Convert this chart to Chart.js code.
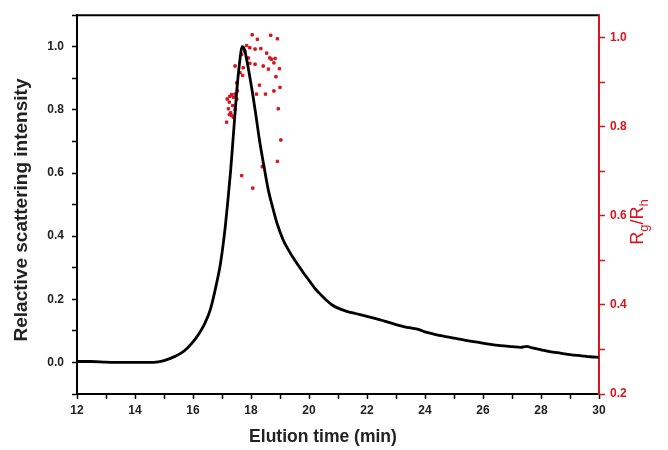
<!DOCTYPE html>
<html>
<head>
<meta charset="utf-8">
<title>Elution profile</title>
<script src="https://cdn.jsdelivr.net/npm/chart.js@4.4.1/dist/chart.umd.min.js"></script>
<style>
    body { margin: 0; background: #fff; }
    #wrap { width: 668px; height: 450px; position: relative; }
</style>
</head>
<body>
<div id="wrap"><canvas id="chart"></canvas></div>
<script>
// light scattering trace
const elutionTime = [12, 12.5, 13, 13.5, 14, 14.5, 14.8, 15.0, 15.2, 15.4, 15.6, 15.8, 16.0, 16.2, 16.4, 16.6, 16.8, 16.95,
    17.1, 17.2, 17.3, 17.4, 17.5, 17.6, 17.7, 17.78, 17.86, 17.95, 18.05, 18.15, 18.3, 18.45, 18.6, 18.75, 18.9, 19.1,
    19.3, 19.5, 19.8, 20.0, 20.2, 20.4, 20.6, 20.8, 21.0, 21.3, 21.6, 22.0, 22.3, 22.6, 23.0, 23.3, 23.6, 23.8, 24.0,
    24.3, 24.6, 25.0, 25.4, 25.8, 26.2, 26.6, 27.0, 27.3, 27.5, 27.7, 28.0, 28.3, 28.7, 29.0, 29.4, 29.7, 30];
const intensity = [0.003, 0.003, 0.001, 0.0, 0.0, 0.0, 0.002, 0.006, 0.012, 0.02, 0.03, 0.045, 0.065, 0.09, 0.122, 0.168,
    0.245, 0.315, 0.42, 0.51, 0.61, 0.73, 0.85, 0.945, 1.0, 0.99, 0.955, 0.91, 0.855, 0.795, 0.7, 0.62, 0.545, 0.49,
    0.44, 0.39, 0.355, 0.325, 0.285, 0.26, 0.235, 0.215, 0.197, 0.182, 0.172, 0.162, 0.155, 0.146, 0.139, 0.131, 0.12,
    0.113, 0.108, 0.104, 0.097, 0.09, 0.084, 0.077, 0.07, 0.064, 0.058, 0.053, 0.05, 0.048, 0.051, 0.046, 0.04, 0.034,
    0.029, 0.025, 0.021, 0.018, 0.016];

// Rg/Rh points
const ratioTime = [18.04, 18.22, 18.68, 18.91, 17.85, 17.96, 18.14, 18.34, 17.79, 17.68, 17.91, 18.54, 18.65, 18.71,
    18.83, 18.79, 17.96, 18.14, 18.42, 18.6, 18.98, 17.45, 17.73, 17.62, 17.71, 18.86, 17.51, 18.29, 19.0, 17.53,
    17.45, 18.19, 18.5, 18.79, 17.33, 17.39, 17.27, 17.18, 17.51, 17.25, 17.37, 17.22, 17.45, 17.3, 17.33, 17.39,
    17.25, 17.16, 18.94, 19.03, 18.91, 18.39, 17.68, 18.06];
const ratioValue = [1.006, 0.996, 1.005, 0.997, 0.982, 0.977, 0.974, 0.975, 0.969, 0.962, 0.954, 0.965, 0.954, 0.951,
    0.953, 0.943, 0.942, 0.94, 0.936, 0.929, 0.93, 0.936, 0.932, 0.921, 0.915, 0.912, 0.898, 0.893, 0.888, 0.88,
    0.873, 0.873, 0.873, 0.88, 0.872, 0.866, 0.868, 0.862, 0.862, 0.855, 0.847, 0.84, 0.838, 0.831, 0.825, 0.821,
    0.827, 0.81, 0.84, 0.77, 0.722, 0.71, 0.69, 0.662];

const red = '#d8141c';
const ink = '#222';
const tickFont = { family: "'Liberation Sans', Arial, sans-serif", size: 12, weight: 'bold' };

// label only every other tick (minor ticks stay unlabeled)
function evenTenths(v) {
    const r = Math.round(v * 10);
    return (r % 2 === 0) ? (r / 10).toFixed(1) : '';
}

const frameAndTitles = {
    id: 'frameAndTitles',
    afterDraw(chart) {
        const { ctx, chartArea } = chart;
        ctx.save();
        // top frame line
        ctx.strokeStyle = '#000';
        ctx.lineWidth = 2;
        ctx.beginPath();
        ctx.moveTo(chartArea.left - 1, chartArea.top);
        ctx.lineTo(chartArea.right - 1, chartArea.top);
        ctx.stroke();

        // x title
        ctx.fillStyle = ink;
        ctx.font = "bold 17.5px 'Liberation Sans', Arial, sans-serif";
        ctx.textAlign = 'center';
        ctx.textBaseline = 'middle';
        ctx.fillText('Elution time (min)', 323, 437);

        // left title
        ctx.save();
        ctx.translate(22, 210);
        ctx.rotate(-Math.PI / 2);
        ctx.font = "bold 19px 'Liberation Sans', Arial, sans-serif";
        ctx.fillText('Relactive scattering intensity', 0, 0);
        ctx.restore();

        // right title Rg/Rh with subscripts
        const parts = [
            { t: 'R', sub: false }, { t: 'g', sub: true },
            { t: '/R', sub: false }, { t: 'h', sub: true }
        ];
        const bigFont = "18px 'Liberation Sans', Arial, sans-serif";
        const smallFont = "13px 'Liberation Sans', Arial, sans-serif";
        let total = 0;
        parts.forEach(p => {
            ctx.font = p.sub ? smallFont : bigFont;
            p.w = ctx.measureText(p.t).width;
            total += p.w;
        });
        ctx.save();
        ctx.translate(643, 222);
        ctx.rotate(-Math.PI / 2);
        ctx.fillStyle = red;
        ctx.textAlign = 'left';
        ctx.textBaseline = 'alphabetic';
        let cx = -total / 2;
        parts.forEach(p => {
            ctx.font = p.sub ? smallFont : bigFont;
            ctx.fillText(p.t, cx, p.sub ? 5 : 0);
            cx += p.w;
        });
        ctx.restore();
        ctx.restore();
    }
};

new Chart(document.getElementById('chart'), {
    type: 'scatter',
    data: {
        datasets: [
            {
                label: 'Relative scattering intensity',
                data: elutionTime.map((t, i) => ({ x: t, y: intensity[i] })),
                showLine: true,
                borderColor: '#000',
                borderWidth: 2.8,
                pointRadius: 0,
                cubicInterpolationMode: 'monotone',
                yAxisID: 'y'
            },
            {
                label: 'Rg/Rh',
                data: ratioTime.map((t, i) => ({ x: t, y: ratioValue[i] })),
                showLine: false,
                pointStyle: 'rect',
                pointRadius: 1.7,
                borderWidth: 1,
                borderColor: red,
                backgroundColor: red,
                yAxisID: 'y1'
            }
        ]
    },
    options: {
        responsive: true,
        maintainAspectRatio: false,
        animation: false,
        layout: { padding: { top: 12, left: 0, right: 0, bottom: 0 } },
        plugins: {
            legend: { display: false },
            tooltip: { enabled: false }
        },
        scales: {
            x: {
                type: 'linear',
                min: 12,
                max: 30,
                afterFit: s => { s.height = 56; },
                ticks: {
                    stepSize: 1,
                    autoSkip: false,
                    includeBounds: false,
                    maxRotation: 0,
                    padding: 4,
                    color: ink,
                    font: tickFont,
                    callback: v => (Math.round(v) % 2 === 0 ? String(Math.round(v)) : '')
                },
                grid: { drawOnChartArea: false, tickLength: 5, tickColor: '#000', tickWidth: 1.5 },
                border: { color: '#000', width: 2 }
            },
            y: {
                type: 'linear',
                position: 'left',
                min: -0.1,
                max: 1.1,
                afterFit: s => { s.width = 77; },
                ticks: {
                    stepSize: 0.1,
                    autoSkip: false,
                    includeBounds: false,
                    padding: 8,
                    color: ink,
                    font: tickFont,
                    callback: evenTenths
                },
                grid: { drawOnChartArea: false, tickLength: 5, tickColor: '#000', tickWidth: 1.5 },
                border: { color: '#000', width: 2 }
            },
            y1: {
                type: 'linear',
                position: 'right',
                min: 0.2,
                max: 1.05,
                afterFit: s => { s.width = 69; },
                ticks: {
                    stepSize: 0.1,
                    autoSkip: false,
                    includeBounds: false,
                    padding: 5,
                    color: red,
                    font: tickFont,
                    callback: evenTenths
                },
                grid: { drawOnChartArea: false, tickLength: 6, tickColor: red, tickWidth: 1.5 },
                border: { color: red, width: 2 }
            }
        }
    },
    plugins: [frameAndTitles]
});
</script>
</body>
</html>
